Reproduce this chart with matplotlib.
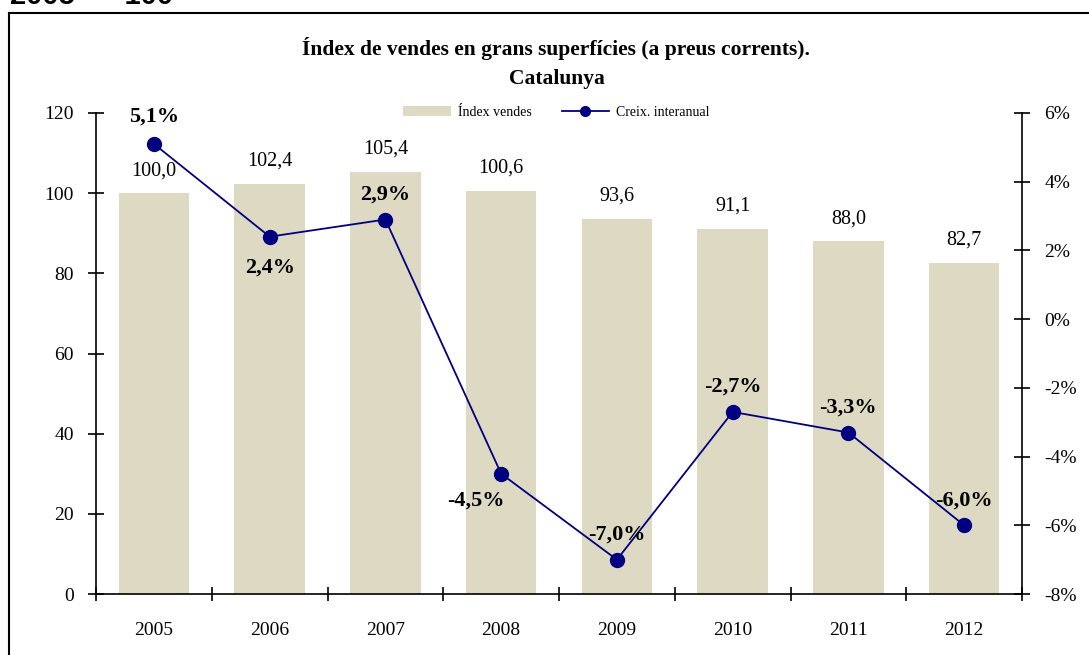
import numpy as np
import matplotlib.pyplot as plt
from matplotlib.lines import Line2D
from matplotlib.patches import Patch

years = ["2005", "2006", "2007", "2008", "2009", "2010", "2011", "2012"]
index_values = [100.0, 102.4, 105.4, 100.6, 93.6, 91.1, 88.0, 82.7]
growth_pct = [5.1, 2.4, 2.9, -4.5, -7.0, -2.7, -3.3, -6.0]
left_ticks = [0, 20, 40, 60, 80, 100, 120]
right_ticks = [-8, -6, -4, -2, 0, 2, 4, 6]

bar_color = "#DDD9C3"
line_color = "#000080"

plt.rcParams["font.family"] = ["Liberation Serif", "DejaVu Serif"]


def fmt(v, digits=1):
    return f"{v:.{digits}f}".replace(".", ",")


fig = plt.figure(figsize=(10.89, 6.55), dpi=100)
ax = fig.add_axes([0.0882, 0.0931, 0.8503, 0.7344])
ax2 = ax.twinx()

x = np.arange(len(years))
ax.bar(x, index_values, width=0.61, color=bar_color, zorder=1)
for xi, v in zip(x, index_values):
    ax.text(xi, v + 3.2, fmt(v), ha="center", va="bottom", fontsize=14.5)

ax.set_xlim(-0.5, len(years) - 0.5)
ax.set_ylim(0, 120)
ax.set_yticks(left_ticks)
ax.set_yticklabels([str(t) for t in left_ticks], fontsize=14)
ax.set_xticks(x)
ax.set_xticklabels(years, fontsize=14)
ax.set_xticks(np.arange(-0.5, len(years), 1.0), minor=True)
ax.tick_params(axis="x", which="major", length=0, pad=20)
ax.tick_params(axis="x", which="minor", direction="inout", length=10, width=1.2)
ax.tick_params(axis="y", direction="inout", length=12, width=1.2, pad=10)
ax.spines["top"].set_visible(False)
ax2.spines["top"].set_visible(False)
for s in ["left", "bottom"]:
    ax.spines[s].set_linewidth(1.2)
ax2.spines["right"].set_linewidth(1.2)
ax.spines["right"].set_visible(False)
ax2.spines["left"].set_visible(False)
ax2.spines["bottom"].set_visible(False)

ax2.plot(x, growth_pct, color=line_color, lw=1.3, marker="o", markersize=10, zorder=3)
ax2.set_ylim(-8, 6)
ax2.set_yticks(right_ticks)
ax2.set_yticklabels([f"{t}%" for t in right_ticks], fontsize=14)
ax2.tick_params(axis="y", direction="inout", length=12, width=1.2, pad=10)

# label offsets in points (dx, dy) relative to each point
offsets = [(0, 20), (0, -22), (0, 18), (-18, -19), (0, 18), (0, 18), (0, 18), (0, 18)]
for xi, v, (dx, dy) in zip(x, growth_pct, offsets):
    ax2.annotate(fmt(v) + "%", (xi, v), xytext=(dx, dy), textcoords="offset points",
                 ha="center", va="center", fontsize=16, fontweight="bold")

fig.text(0.511, 0.926, "Índex de vendes en grans superfícies (a preus corrents).",
         ha="center", va="center", fontsize=15.5, fontweight="bold")
fig.text(0.511, 0.880, "Catalunya", ha="center", va="center", fontsize=15.5, fontweight="bold")

handles = [Patch(facecolor=bar_color, edgecolor="none"),
           Line2D([], [], color=line_color, lw=1.3, marker="o", markersize=7)]
fig.legend(handles, ["Índex vendes", "Creix. interanual"], loc="center",
           bbox_to_anchor=(0.511, 0.828), ncol=2, frameon=False, fontsize=10,
           handlelength=3.4, columnspacing=2.2, handletextpad=0.5)

# outer frame and clipped header
fig.add_artist(Line2D([0.0083, 0.0083], [0, 0.980], color="black", lw=1.5))
fig.add_artist(Line2D([0.0083, 1.0], [0.980, 0.980], color="black", lw=1.5))
fig.text(0.009, 0.994, "2005  =  100", ha="left", va="baseline", fontsize=21,
         fontweight="bold", family="Liberation Sans")

fig.savefig("out.png", dpi=100)
